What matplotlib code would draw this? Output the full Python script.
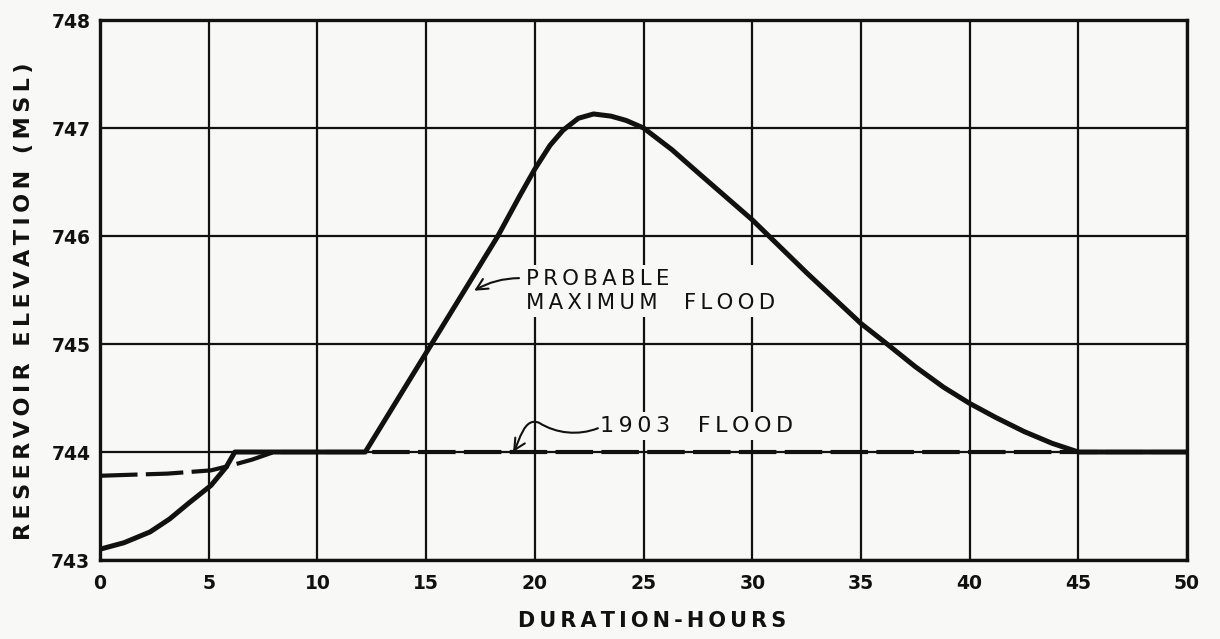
"""Reservoir elevation hydrographs for the probable maximum flood and the 1903 flood."""

import matplotlib

matplotlib.use("Agg")
import matplotlib.pyplot as plt
from matplotlib.patches import FancyArrowPatch
from matplotlib.path import Path

# probable maximum flood routing (hours, ft MSL)
PMF_HOURS = [0, 1.1, 2.3, 3.2, 4.1, 5.1, 5.8, 6.2, 12.2, 15.25, 18.3, 19.3,
             20.0, 20.7, 21.3, 22.0, 22.7, 23.5, 24.2, 25.0, 26.3, 27.6,
             30.0, 32.5, 35.0, 36.2, 37.5, 38.8, 40.0, 41.2, 42.5, 43.8,
             45.0, 50.0]
PMF_ELEV = [743.10, 743.16, 743.26, 743.38, 743.53, 743.69, 743.86, 744.00,
            744.00, 745.00, 746.00, 746.37, 746.62, 746.84, 746.98, 747.09,
            747.13, 747.11, 747.07, 747.00, 746.80, 746.57, 746.15, 745.66,
            745.19, 745.00, 744.79, 744.60, 744.45, 744.32, 744.19, 744.08,
            744.00, 744.00]

# 1903 flood routing
FLOOD_1903_HOURS = [0, 1.5, 3.1, 5.1, 6.1, 7.0, 8.0, 50.0]
FLOOD_1903_ELEV = [743.78, 743.79, 743.80, 743.83, 743.88, 743.93, 744.00, 744.00]

X_TICKS = list(range(0, 51, 5))
Y_TICKS = [743, 744, 745, 746, 747, 748]

PMF_ARROW_TIP = (17.1, 745.48)
FLOOD_1903_ARROW_TIP = (19.0, 744.0)

INK = "#111111"
PAPER = "#f8f8f6"
THIN = "\u2009"


def lettered(text: str) -> str:
    """Open up the letter spacing the way a lettering guide would."""
    return "\n".join(THIN.join(line) for line in text.split("\n"))


def main() -> None:
    fig = plt.figure(figsize=(12.2, 6.39), dpi=100, facecolor=PAPER)
    ax = fig.add_axes([0.082, 0.1236, 0.891, 0.8451], facecolor=PAPER)

    ax.set_xlim(0, 50)
    ax.set_ylim(743, 748)
    ax.set_xticks(X_TICKS)
    ax.set_yticks(Y_TICKS)
    ax.grid(True, color=INK, linewidth=1.6, zorder=1)
    ax.set_axisbelow(True)
    for spine in ax.spines.values():
        spine.set_linewidth(2.4)
        spine.set_color(INK)
    ax.tick_params(length=0, labelsize=13.5, colors=INK)
    ax.tick_params(axis="x", pad=10)
    ax.tick_params(axis="y", pad=7)
    for label in ax.get_xticklabels() + ax.get_yticklabels():
        label.set_fontweight("bold")

    ax.plot(FLOOD_1903_HOURS, FLOOD_1903_ELEV, color=INK, linewidth=3.0,
            dashes=(9, 2), solid_capstyle="butt", zorder=3)
    ax.plot(PMF_HOURS, PMF_ELEV, color=INK, linewidth=3.6,
            solid_joinstyle="round", zorder=4)

    text_box = dict(facecolor=PAPER, edgecolor="none", pad=3)
    ax.text(19.6, 745.69, lettered("PROBABLE\nMAXIMUM  FLOOD"), ha="left",
            va="top", fontsize=15.3, linespacing=1.2, color=INK, bbox=text_box,
            zorder=5)
    ax.add_patch(FancyArrowPatch(
        (19.4, 745.61), PMF_ARROW_TIP,
        connectionstyle="arc3,rad=0.15", arrowstyle="->,head_length=8,head_width=4",
        color=INK, linewidth=1.5, zorder=6))

    ax.text(23.0, 744.24, lettered("1903  FLOOD"), ha="left", va="center",
            fontsize=16, color=INK, bbox=text_box, zorder=5)
    wave = Path(
        [(22.9, 744.22), (22.0, 744.15), (21.0, 744.17), (20.2, 744.27),
         (19.5, 744.33), (19.3, 744.10), FLOOD_1903_ARROW_TIP],
        [Path.MOVETO, Path.CURVE4, Path.CURVE4, Path.CURVE4,
         Path.CURVE4, Path.CURVE4, Path.CURVE4],
    )
    ax.add_patch(FancyArrowPatch(
        path=wave, arrowstyle="->,head_length=8,head_width=4",
        color=INK, linewidth=1.5, zorder=6))

    ax.set_xlabel(lettered("DURATION-HOURS"), fontsize=15, fontweight="bold",
                  color=INK)
    ax.xaxis.set_label_coords(0.508, -0.095)
    ax.set_ylabel(lettered("RESERVOIR ELEVATION (MSL)"), fontsize=16,
                  fontweight="bold", color=INK)
    ax.yaxis.set_label_coords(-0.061, 0.48)

    fig.savefig("out.png", dpi=100, facecolor=PAPER)
    plt.close(fig)


if __name__ == "__main__":
    main()
